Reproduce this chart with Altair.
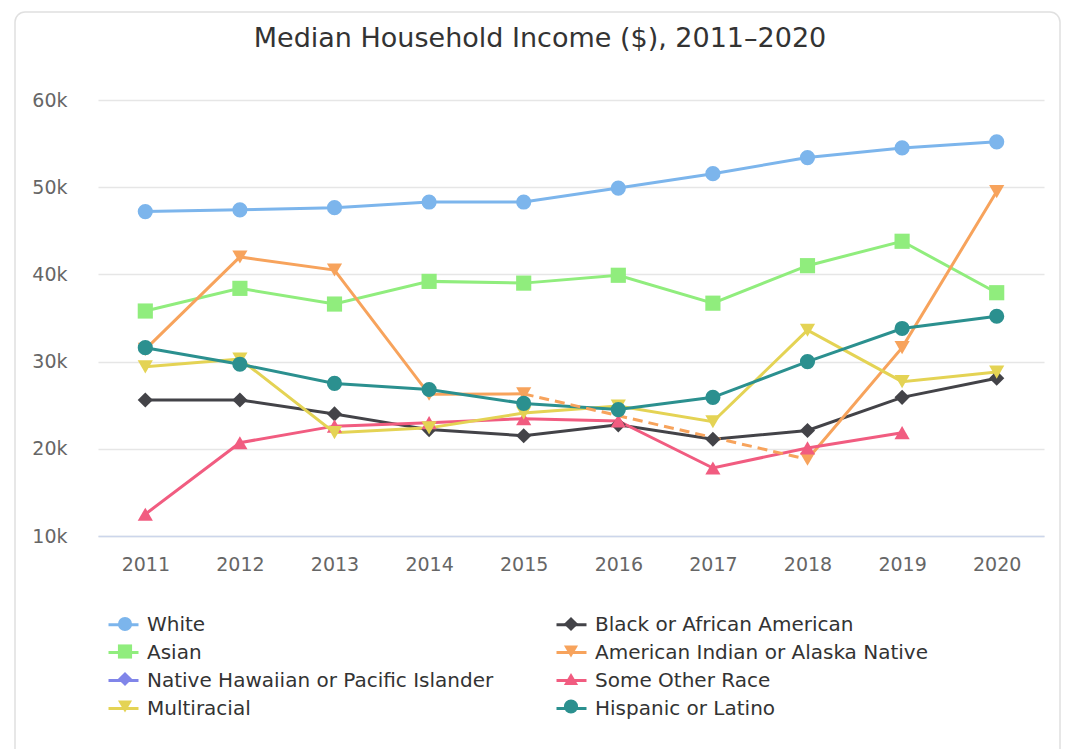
import altair as alt
import pandas as pd

years = [2011, 2012, 2013, 2014, 2015, 2016, 2017, 2018, 2019, 2020]
series_names = [
    "White",
    "Black or African American",
    "Asian",
    "American Indian or Alaska Native",
    "Native Hawaiian or Pacific Islander",
    "Some Other Race",
    "Multiracial",
    "Hispanic or Latino",
]
white = [47200, 47400, 47650, 48300, 48300, 49900, 51550, 53400, 54500, 55200]
black = [25600, 25600, 24000, 22200, 21500, 22750, 21100, 22100, 25900, 28100]
asian = [35800, 38400, 36600, 39200, 39000, 39900, 36700, 41000, 43800, 37900]
aian = [31400, 42000, 40500, 26250, 26300, None, None, 18800, 31600, 49500]
nhpi = [None, None, None, None, None, None, None, None, None, None]
sor = [12500, 20700, 22600, 23000, 23450, 23200, 17800, 20100, 21850, None]
multi = [29400, 30300, 21850, 22400, 24100, 24900, 23100, 33600, 27700, 28800]
hisp = [31600, 29700, 27500, 26800, 25200, 24500, 25900, 30000, 33800, 35200]

colors = ["#7cb5ec", "#434348", "#90ed7d", "#f7a35c", "#8085e9", "#f15c80", "#e4d354", "#2b908f"]
shapes = ["circle", "diamond", "square", "triangle-down", "diamond", "triangle-up", "triangle-down", "circle"]

all_values = [white, black, asian, aian, nhpi, sor, multi, hisp]

# Build tables: solid runs, dashed gap connectors, points
solid_rows, dash_rows, point_rows = [], [], []
for name, vals in zip(series_names, all_values):
    run = 0
    prev_idx = None
    for i, (yr, v) in enumerate(zip(years, vals)):
        if v is None:
            continue
        if prev_idx is not None and i - prev_idx > 1:
            run += 1
            dash_rows.append({"year": years[prev_idx], "value": vals[prev_idx], "series": name, "seg": f"{name}-gap{run}"})
            dash_rows.append({"year": yr, "value": v, "series": name, "seg": f"{name}-gap{run}"})
        solid_rows.append({"year": yr, "value": v, "series": name, "seg": f"{name}-{run}"})
        point_rows.append({"year": yr, "value": v, "series_p": name})
        prev_idx = i

solid_df = pd.DataFrame(solid_rows)
dash_df = pd.DataFrame(dash_rows)
point_df = pd.DataFrame(point_rows)

FONT = "DejaVu Sans"
W, H = 946, 436
LEG_FS = 20

x_enc = alt.X(
    "year:O",
    sort=years,
    scale=alt.Scale(domain=years),
    axis=alt.Axis(
        title=None, labelAngle=0, labelFontSize=19, labelColor="#666666", labelFont=FONT,
        domainColor="#ccd6eb", domainWidth=1.5, ticks=False, labelPadding=19,
        grid=False, gridOpacity=0,
    ),
)
y_enc = alt.Y(
    "value:Q",
    scale=alt.Scale(domain=[10000, 60000], nice=False, zero=False),
    axis=alt.Axis(
        title=None, values=[10000, 20000, 30000, 40000, 50000, 60000], format="~s",
        labelFontSize=19, labelColor="#666666", labelFont=FONT, domain=False, ticks=False,
        labelPadding=31, gridColor="#e6e6e6", gridWidth=1.5,
    ),
)

color_line = alt.Color(
    "series:N",
    scale=alt.Scale(domain=series_names, range=colors),
    legend=alt.Legend(
        orient="none", legendX=9, legendY=508, columns=2, direction="horizontal", title=None,
        symbolType="stroke", symbolSize=900, symbolStrokeWidth=3,
        labelFontSize=LEG_FS, labelFont=FONT, labelColor="#333333", labelOffset=7,
        columnPadding=56, rowPadding=1, labelLimit=600,
    ),
)

frame = alt.Chart(alt.Data(values=[{}])).mark_rect(
    fill="transparent", stroke="#e0e0e0", strokeWidth=1.5, cornerRadius=10
).encode(
    x=alt.value(-83), x2=alt.value(962), y=alt.value(-88), y2=alt.value(700)
)

lines = alt.Chart(solid_df).mark_line(strokeWidth=3).encode(
    x=x_enc, y=y_enc, color=color_line, detail="seg:N"
)

dashes = alt.Chart(dash_df).mark_line(strokeWidth=3, strokeDash=[10, 6]).encode(
    x=x_enc, y=y_enc,
    color=alt.Color("series:N", scale=alt.Scale(domain=series_names, range=colors), legend=None),
    detail="seg:N",
)

points = alt.Chart(point_df).mark_point(filled=True, size=230, opacity=1).encode(
    x=x_enc, y=y_enc,
    color=alt.Color(
        "series_p:N",
        scale=alt.Scale(domain=series_names, range=colors),
        legend=alt.Legend(
            orient="none", legendX=9, legendY=514, columns=2, direction="horizontal", title=None,
            symbolSize=200, symbolStrokeWidth=0, symbolOffset=8,
            labelFontSize=LEG_FS, labelFont=FONT, labelOpacity=0, labelOffset=15,
            labelExpr="''",
            columnPadding=403, rowPadding=7.5, labelLimit=600,
        ),
    ),
    shape=alt.Shape("series_p:N", scale=alt.Scale(domain=series_names, range=shapes)),
)

chart = (
    alt.layer(frame, lines, dashes, points)
    .resolve_scale(color="independent", shape="independent")
    .resolve_legend(color="independent", shape="independent")
    .properties(
        width=W,
        height=H,
        view=alt.ViewBackground(stroke="transparent", strokeWidth=0),
        padding={"left": 14, "top": 11, "right": 0, "bottom": 0},
        title=alt.TitleParams(
            "Median Household Income ($), 2011\u20132020",
            fontSize=27, font=FONT, fontWeight="normal", color="#333333",
            anchor="middle", frame="group", dx=-31, offset=-42,
        ),
    )
    .configure_view(stroke="transparent", strokeWidth=0)
    .configure_axis(gridOpacity=1)
    .configure(background="white")
)

chart.save("out.html", embed_options={"renderer": "svg", "actions": False})
